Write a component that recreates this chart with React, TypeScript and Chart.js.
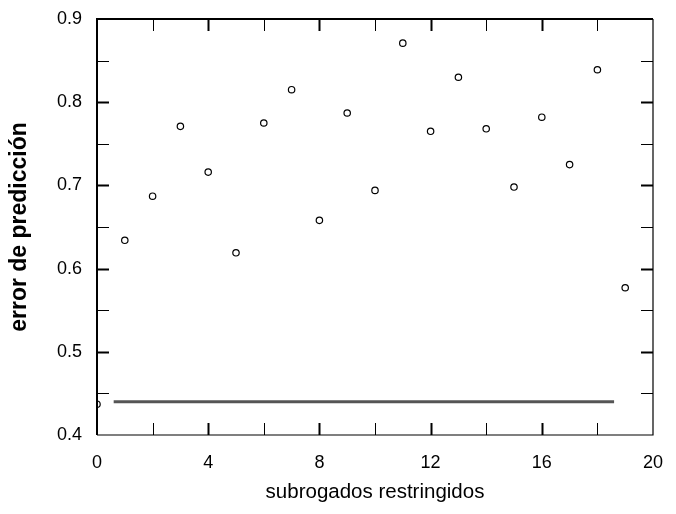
import React, { useEffect, useRef } from "react";
import { Chart, registerables } from "chart.js";

Chart.register(...registerables);

const xValues = [0, 1, 2, 3, 4, 5, 6, 7, 8, 9, 10, 11, 12, 13, 14, 15, 16, 17, 18, 19];
const errorValues = [
  0.437, 0.634, 0.687, 0.771, 0.716, 0.619, 0.775, 0.815, 0.658, 0.787,
  0.694, 0.871, 0.765, 0.830, 0.768, 0.698, 0.782, 0.725, 0.839, 0.577,
];
const baselineX = [0.6, 18.6];
const baselineY = [0.44, 0.44];
const xTickMarks = [2, 4, 6, 8, 10, 12, 14, 16, 18];
const xMajorTicks = [4, 8, 12, 16];
const yTickMarks = [0.45, 0.5, 0.55, 0.6, 0.65, 0.7, 0.75, 0.8, 0.85];
const yMajorTicks = [0.5, 0.6, 0.7, 0.8];

const framePlugin = {
  id: "frameTicks",
  afterDraw(chart: any) {
    const { ctx, chartArea } = chart;
    const xs = chart.scales.x;
    const ys = chart.scales.y;
    const { left, right, top, bottom } = chartArea;
    ctx.save();
    ctx.strokeStyle = "#000";
    ctx.lineWidth = 2;
    ctx.beginPath();
    ctx.moveTo(left, bottom);
    ctx.lineTo(left, top);
    ctx.lineTo(right, top);
    ctx.stroke();
    ctx.lineWidth = 1.2;
    ctx.beginPath();
    ctx.moveTo(right, top);
    ctx.lineTo(right, bottom);
    ctx.lineTo(left, bottom);
    ctx.stroke();
    const len = 12;
    xTickMarks.forEach((v) => {
      const px = Math.round(xs.getPixelForValue(v)) + 0.5;
      ctx.lineWidth = xMajorTicks.includes(v) ? 2 : 1;
      ctx.beginPath();
      ctx.moveTo(px, bottom);
      ctx.lineTo(px, bottom - len);
      ctx.moveTo(px, top);
      ctx.lineTo(px, top + len);
      ctx.stroke();
    });
    yTickMarks.forEach((v) => {
      const py = Math.round(ys.getPixelForValue(v)) + 0.5;
      ctx.lineWidth = yMajorTicks.includes(v) ? 2 : 1;
      ctx.beginPath();
      ctx.moveTo(left, py);
      ctx.lineTo(left + len, py);
      ctx.moveTo(right, py);
      ctx.lineTo(right - len, py);
      ctx.stroke();
    });
    ctx.restore();
  },
};

export default function App() {
  const ref = useRef<HTMLCanvasElement | null>(null);

  useEffect(() => {
    document.body.style.margin = "0";
    if (!ref.current) return;
    const chart = new Chart(ref.current, {
      type: "scatter",
      data: {
        datasets: [
          {
            label: "baseline",
            data: baselineX.map((x, i) => ({ x, y: baselineY[i] })),
            showLine: true,
            borderColor: "#555555",
            borderWidth: 3,
            pointRadius: 0,
            fill: false,
          },
          {
            label: "error",
            data: xValues.map((x, i) => ({ x, y: errorValues[i] })),
            pointRadius: 3.2,
            pointBorderWidth: 1.2,
            pointBorderColor: "#000",
            pointBackgroundColor: "#fff",
            showLine: false,
          },
        ],
      },
      options: {
        responsive: false,
        animation: false,
        layout: { padding: { top: 19, right: 23, left: 0, bottom: 0 } },
        plugins: { legend: { display: false }, tooltip: { enabled: false } },
        scales: {
          x: {
            type: "linear",
            min: 0,
            max: 20,
            grid: { display: false, drawTicks: false },
            border: { display: false },
            ticks: {
              stepSize: 4,
              padding: 17,
              color: "#000",
              font: { family: "Liberation Sans", size: 18 },
            },
            title: {
              display: true,
              text: "subrogados restringidos",
              color: "#000",
              font: { family: "Liberation Sans", size: 20.5 },
              padding: { top: 0, bottom: 9 },
            },
            afterFit: (s: any) => {
              s.height = 79;
              s.paddingLeft = 0;
              s.paddingRight = 0;
            },
          },
          y: {
            min: 0.4,
            max: 0.9,
            grid: { display: false, drawTicks: false },
            border: { display: false },
            ticks: {
              stepSize: 0.1,
              padding: 15,
              color: "#000",
              font: { family: "Liberation Sans", size: 18 },
              callback: (v: any) => Number(v).toFixed(1),
            },
            title: {
              display: true,
              text: "error de predicción",
              color: "#000",
              font: { family: "Liberation Sans", size: 23, weight: "bold" },
              padding: { top: 6, bottom: 0 },
            },
            afterFit: (s: any) => {
              s.width = 97;
              s.paddingTop = 0;
              s.paddingBottom = 0;
            },
          },
        },
      },
      plugins: [framePlugin],
    });
    return () => chart.destroy();
  }, []);

  return (
    <div style={{ width: 676, height: 514 }}>
      <canvas ref={ref} width={676} height={514} />
    </div>
  );
}
